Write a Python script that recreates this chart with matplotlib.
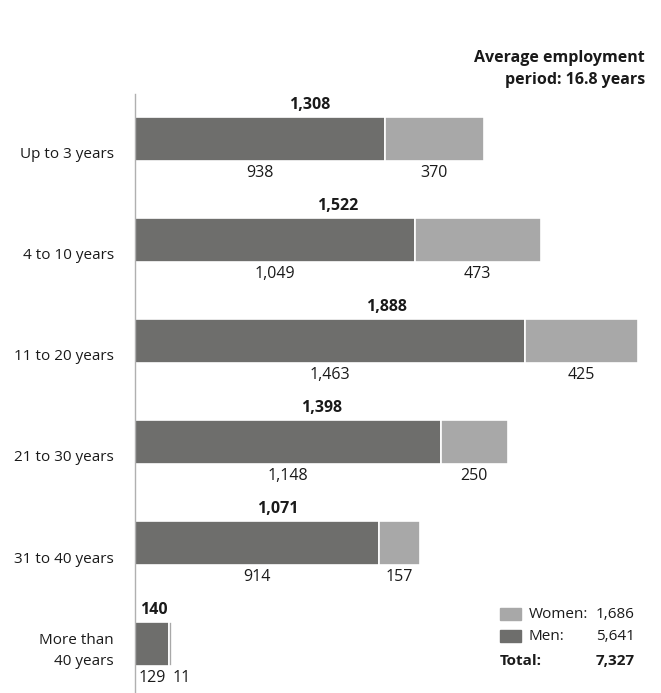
import matplotlib.pyplot as plt

plt.rcParams["font.family"] = ["Open Sans", "DejaVu Sans"]

categories = ["Up to 3 years", "4 to 10 years", "11 to 20 years",
              "21 to 30 years", "31 to 40 years", "More than\n40 years"]
men = [938, 1049, 1463, 1148, 914, 129]
women = [370, 473, 425, 250, 157, 11]
totals = [1308, 1522, 1888, 1398, 1071, 140]

MEN_COLOR = "#6e6e6c"
WOMEN_COLOR = "#a8a8a8"
TEXT_COLOR = "#1a1a1a"
FS = 11

fig = plt.figure(figsize=(6.61, 6.93), dpi=100)
ax = fig.add_axes([135 / 661, 1 / 693, 510 / 661, 598 / 693])

rows = range(len(categories))
ax.barh(rows, men, height=0.43, color=MEN_COLOR, edgecolor="white", linewidth=1.2)
ax.barh(rows, women, left=men, height=0.43, color=WOMEN_COLOR, edgecolor="white", linewidth=1.2)

ax.set_xlim(0, 1914)
ax.set_ylim(5.475, -0.445)

for i, (m, w, t, cat) in enumerate(zip(men, women, totals, categories)):
    ax.annotate(f"{t:,}", (t / 2, i), xytext=(0, 34), textcoords="offset pixels",
                ha="center", va="center", fontsize=FS + 0.5, fontweight="bold", color=TEXT_COLOR)
    ax.annotate(f"{m:,}", (m / 2, i), xytext=(0, -34), textcoords="offset pixels",
                ha="center", va="center", fontsize=FS + 0.5, color=TEXT_COLOR)
    # narrow segments get their label set just right of the segment start
    if w < 60:
        ax.annotate(f"{w:,}", (m, i), xytext=(3, -34), textcoords="offset pixels",
                    ha="left", va="center", fontsize=FS + 0.5, color=TEXT_COLOR)
    else:
        ax.annotate(f"{w:,}", (m + w / 2, i), xytext=(0, -34), textcoords="offset pixels",
                    ha="center", va="center", fontsize=FS + 0.5, color=TEXT_COLOR)
    dy = -16 if "\n" not in cat else -7
    ax.annotate(cat, (0, i), xytext=(-21, dy), textcoords="offset pixels",
                ha="right", va="center", fontsize=FS, color=TEXT_COLOR,
                linespacing=1.5, annotation_clip=False)

for side in ["top", "right", "bottom"]:
    ax.spines[side].set_visible(False)
ax.spines["left"].set_color("#b0b0b0")
ax.spines["left"].set_linewidth(1)
ax.set_xticks([])
ax.set_yticks([])

fig.text(645 / 661, 1 - 58 / 693, "Average employment", ha="right", va="center",
         fontsize=FS + 0.5, fontweight="bold", color=TEXT_COLOR)
fig.text(645 / 661, 1 - 80 / 693, "period: 16.8 years", ha="right", va="center",
         fontsize=FS + 0.5, fontweight="bold", color=TEXT_COLOR)

# legend block with totals per gender
legend_rows = [("Women:", sum(women), WOMEN_COLOR, 614), ("Men:", sum(men), MEN_COLOR, 636)]
for label, value, color, y in legend_rows:
    fig.patches.append(plt.Rectangle((500 / 661, 1 - (y + 6) / 693), 21 / 661, 12 / 693,
                                     transform=fig.transFigure, color=color))
    fig.text(529 / 661, 1 - y / 693, label, ha="left", va="center", fontsize=FS, color=TEXT_COLOR)
    fig.text(635 / 661, 1 - y / 693, f"{value:,}", ha="right", va="center", fontsize=FS, color=TEXT_COLOR)
fig.text(500 / 661, 1 - 661 / 693, "Total:", ha="left", va="center",
         fontsize=FS, fontweight="bold", color=TEXT_COLOR)
fig.text(635 / 661, 1 - 661 / 693, f"{sum(totals):,}", ha="right", va="center",
         fontsize=FS, fontweight="bold", color=TEXT_COLOR)

fig.savefig("out.png", dpi=100)
